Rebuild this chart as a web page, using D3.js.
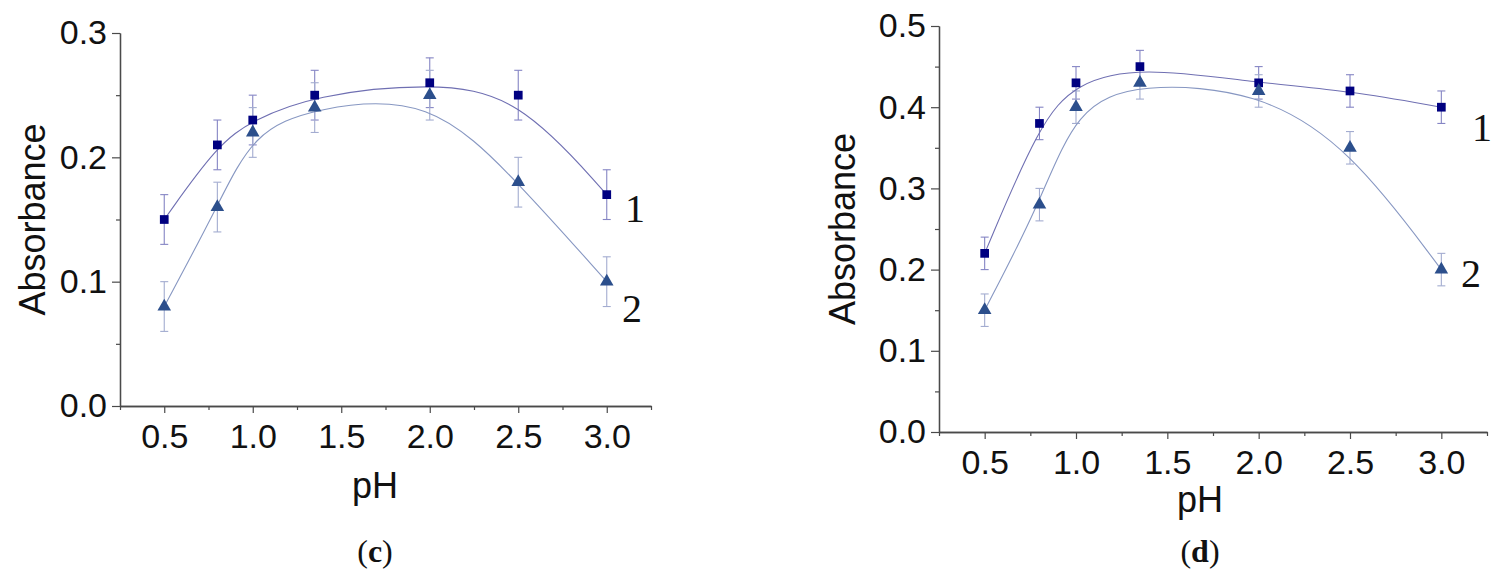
<!DOCTYPE html>
<html>
<head>
<meta charset="utf-8">
<script src="https://cdn.jsdelivr.net/npm/d3@7"></script>
<style>
  html, body { margin: 0; padding: 0; background: #ffffff; }
  svg { display: block; }
  .tick text { font-family: "Liberation Sans", Arial, sans-serif; fill: #111; }
</style>
</head>
<body>
<svg id="chart" width="1499" height="576"></svg>
<script>
// ---------- data ----------
const phValues = [0.5, 0.8, 1.0, 1.35, 2.0, 2.5, 3.0];

// panel (c)
const cSeries1 = [0.15, 0.21, 0.23, 0.25, 0.26, 0.25, 0.17];
const cSeries2 = [0.08, 0.16, 0.22, 0.24, 0.25, 0.18, 0.10];
const cErr1 = [0.02, 0.02, 0.02, 0.02, 0.02, 0.02, 0.02];
const cErr2 = [0.02, 0.02, 0.02, 0.02, 0.02, 0.02, 0.02];

// panel (d)
const dSeries1 = [0.22, 0.38, 0.43, 0.45, 0.43, 0.42, 0.40];
const dSeries2 = [0.15, 0.28, 0.40, 0.43, 0.42, 0.35, 0.20];
const dErr1 = [0.02, 0.02, 0.02, 0.02, 0.02, 0.02, 0.02];
const dErr2 = [0.02, 0.02, 0.02, 0.02, 0.02, 0.02, 0.02];

const xTickLabels = [0.5, 1.0, 1.5, 2.0, 2.5, 3.0];
const xMinorTicks = [0.25, 0.75, 1.25, 1.75, 2.25, 2.75, 3.25];
const cYTicks = [0.0, 0.1, 0.2, 0.3];
const cYMinor = [0.05, 0.15, 0.25];
const dYTicks = [0.0, 0.1, 0.2, 0.3, 0.4, 0.5];
const dYMinor = [0.05, 0.15, 0.25, 0.35, 0.45];
const seriesNames = ["1", "2"];

// ---------- styles ----------
const AXIS_COLOR = "#4a4a4a";
const SQ_COLOR = "#000080";
const TRI_COLOR = "#2c4f8c";
const CURVE1 = "#6f6fb2";
const CURVE2 = "#8797c2";
const ERR1 = "#8585c4";
const ERR2 = "#a3acd0";

const svg = d3.select("#chart");

function panel(cfg) {
  const g = svg.append("g");
  const x = d3.scaleLinear().domain([0.25, 3.25]).range([cfg.x0, cfg.x1]);
  const y = d3.scaleLinear().domain([0, cfg.yMax]).range([cfg.y0, cfg.y1]);

  // axes
  const xAxis = g.append("g").attr("transform", `translate(0,${cfg.y0})`)
    .call(d3.axisBottom(x).tickValues(xTickLabels).tickSize(7).tickPadding(11)
      .tickSizeOuter(0).tickFormat(d3.format(".1f")));
  const xMinor = g.append("g").attr("transform", `translate(0,${cfg.y0})`)
    .call(d3.axisBottom(x).tickValues(xMinorTicks).tickSize(4).tickSizeOuter(0).tickFormat(""));
  const yAxis = g.append("g").attr("transform", `translate(${cfg.x0},0)`)
    .call(d3.axisLeft(y).tickValues(cfg.yTicks).tickSize(8).tickPadding(5)
      .tickSizeOuter(0).tickFormat(d3.format(".1f")));
  const yMinor = g.append("g").attr("transform", `translate(${cfg.x0},0)`)
    .call(d3.axisLeft(y).tickValues(cfg.yMinor).tickSize(4).tickSizeOuter(0).tickFormat(""));

  [xAxis, xMinor, yAxis, yMinor].forEach(a => {
    a.selectAll("path.domain").attr("stroke", AXIS_COLOR).attr("stroke-width", 1.3);
    a.selectAll(".tick line").attr("stroke", AXIS_COLOR).attr("stroke-width", 1.2);
    a.selectAll(".tick text").attr("font-size", 34).attr("fill", "#111");
  });

  // axis titles
  g.append("text")
    .attr("transform", `translate(${cfg.yTitleX},${(cfg.y0 + cfg.y1) / 2}) rotate(-90)`)
    .attr("text-anchor", "middle")
    .attr("font-family", "Liberation Sans, Arial, sans-serif")
    .attr("font-size", 36).attr("fill", "#111")
    .text("Absorbance");
  g.append("text")
    .attr("x", cfg.pHx).attr("y", cfg.pHy)
    .attr("text-anchor", "middle")
    .attr("font-family", "Liberation Sans, Arial, sans-serif")
    .attr("font-size", 36).attr("fill", "#111")
    .text("pH");
  const cap = g.append("text")
    .attr("x", cfg.pHx).attr("y", cfg.capY)
    .attr("text-anchor", "middle")
    .attr("font-family", "Liberation Serif, Times New Roman, serif")
    .attr("font-size", 32).attr("fill", "#111");
  cap.append("tspan").text("(");
  cap.append("tspan").attr("font-weight", "bold").text(cfg.cap);
  cap.append("tspan").text(")");

  const line = d3.line().x(d => x(d[0])).y(d => y(d[1])).curve(d3.curveBasis);

  cfg.series.forEach((s) => {
    const pts = phValues.map((p, i) => [p, s.values[i], s.err[i]]);
    const eb = g.append("g").attr("stroke", s.errColor).attr("stroke-width", 1.1).attr("fill", "none");
    pts.forEach(d => {
      const xx = x(d[0]);
      eb.append("line").attr("x1", xx).attr("x2", xx).attr("y1", y(d[1] - d[2])).attr("y2", y(d[1] + d[2]));
      eb.append("line").attr("x1", xx - 4).attr("x2", xx + 4).attr("y1", y(d[1] - d[2])).attr("y2", y(d[1] - d[2]));
      eb.append("line").attr("x1", xx - 4).attr("x2", xx + 4).attr("y1", y(d[1] + d[2])).attr("y2", y(d[1] + d[2]));
    });
    s.pts = pts;
  });
  cfg.series.forEach(s => {
    g.append("path").datum(s.pts).attr("d", line)
      .attr("fill", "none").attr("stroke", s.curveColor).attr("stroke-width", 1.1);
  });
  cfg.series.forEach((s, si) => {
    const sym = d3.symbol().type(si === 0 ? d3.symbolSquare : d3.symbolTriangle).size(si === 0 ? 76 : 80);
    g.append("g").selectAll("path").data(s.pts).join("path")
      .attr("transform", d => `translate(${x(d[0])},${y(d[1])})`)
      .attr("d", sym)
      .attr("fill", s.color);
  });

  // series labels
  cfg.labels.forEach((lb, i) => {
    g.append("text")
      .attr("x", lb[0]).attr("y", lb[1])
      .attr("text-anchor", "middle")
      .attr("font-family", "Liberation Serif, Times New Roman, serif")
      .attr("font-size", 40).attr("fill", "#111")
      .text(seriesNames[i]);
  });
}

panel({
  x0: 120, x1: 651, y0: 406, y1: 33, yMax: 0.3,
  yTicks: cYTicks, yMinor: cYMinor,
  yTitleX: 45, pHx: 375, pHy: 498, capY: 562, cap: "c",
  series: [
    { values: cSeries1, err: cErr1, color: SQ_COLOR, curveColor: CURVE1, errColor: ERR1 },
    { values: cSeries2, err: cErr2, color: TRI_COLOR, curveColor: CURVE2, errColor: ERR2 }
  ],
  labels: [[635, 222], [632, 322]]
});

panel({
  x0: 939, x1: 1487, y0: 432, y1: 26, yMax: 0.5,
  yTicks: dYTicks, yMinor: dYMinor,
  yTitleX: 855, pHx: 1200, pHy: 512, capY: 562, cap: "d",
  series: [
    { values: dSeries1, err: dErr1, color: SQ_COLOR, curveColor: CURVE1, errColor: ERR1 },
    { values: dSeries2, err: dErr2, color: TRI_COLOR, curveColor: CURVE2, errColor: ERR2 }
  ],
  labels: [[1482, 141], [1471, 287]]
});
</script>
</body>
</html>
